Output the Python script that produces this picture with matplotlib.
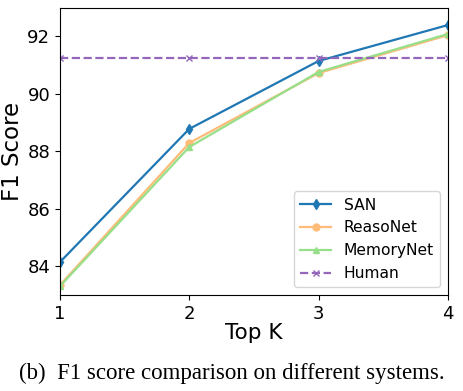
import matplotlib.pyplot as plt

topk = [1, 2, 3, 4]
san = [84.14, 88.77, 91.13, 92.38]
reasonet = [83.34, 88.28, 90.71, 92.03]
memorynet = [83.3, 88.14, 90.75, 92.07]
human = [91.22, 91.22, 91.22, 91.22]

fig = plt.figure(figsize=(4.64, 3.91), dpi=100)
ax = fig.add_axes([0.129, 0.2455, 0.8365, 0.734])

ax.plot(topk, san, color='#1f77b4', marker='d', markersize=5, linewidth=1.6, label='SAN')
ax.plot(topk, reasonet, color='#ffbb78', marker='o', markersize=5, linewidth=1.6, label='ReasoNet')
ax.plot(topk, memorynet, color='#98df8a', marker='^', markersize=5, linewidth=1.6, label='MemoryNet')
ax.plot(topk, human, color='#9467bd', marker='x', markersize=5, linewidth=1.6,
        linestyle='--', label='Human')

ax.set_xlim(1, 4)
ax.set_ylim(83.0, 92.97)
ax.set_xticks(topk)
ax.set_yticks([84, 86, 88, 90, 92])
ax.tick_params(labelsize=13)
ax.set_xlabel('Top K', fontsize=15.5, labelpad=0)
ax.set_ylabel('F1 Score', fontsize=16.5, labelpad=2)
ax.legend(loc='lower right', fontsize=11.2, handlelength=2.0, labelspacing=0.5,
          borderaxespad=0.5)

fig.text(0.5, 0.03, '(b)  F1 score comparison on different systems.',
         ha='center', fontsize=16.5, family='Liberation Serif')

plt.savefig('out.png')
